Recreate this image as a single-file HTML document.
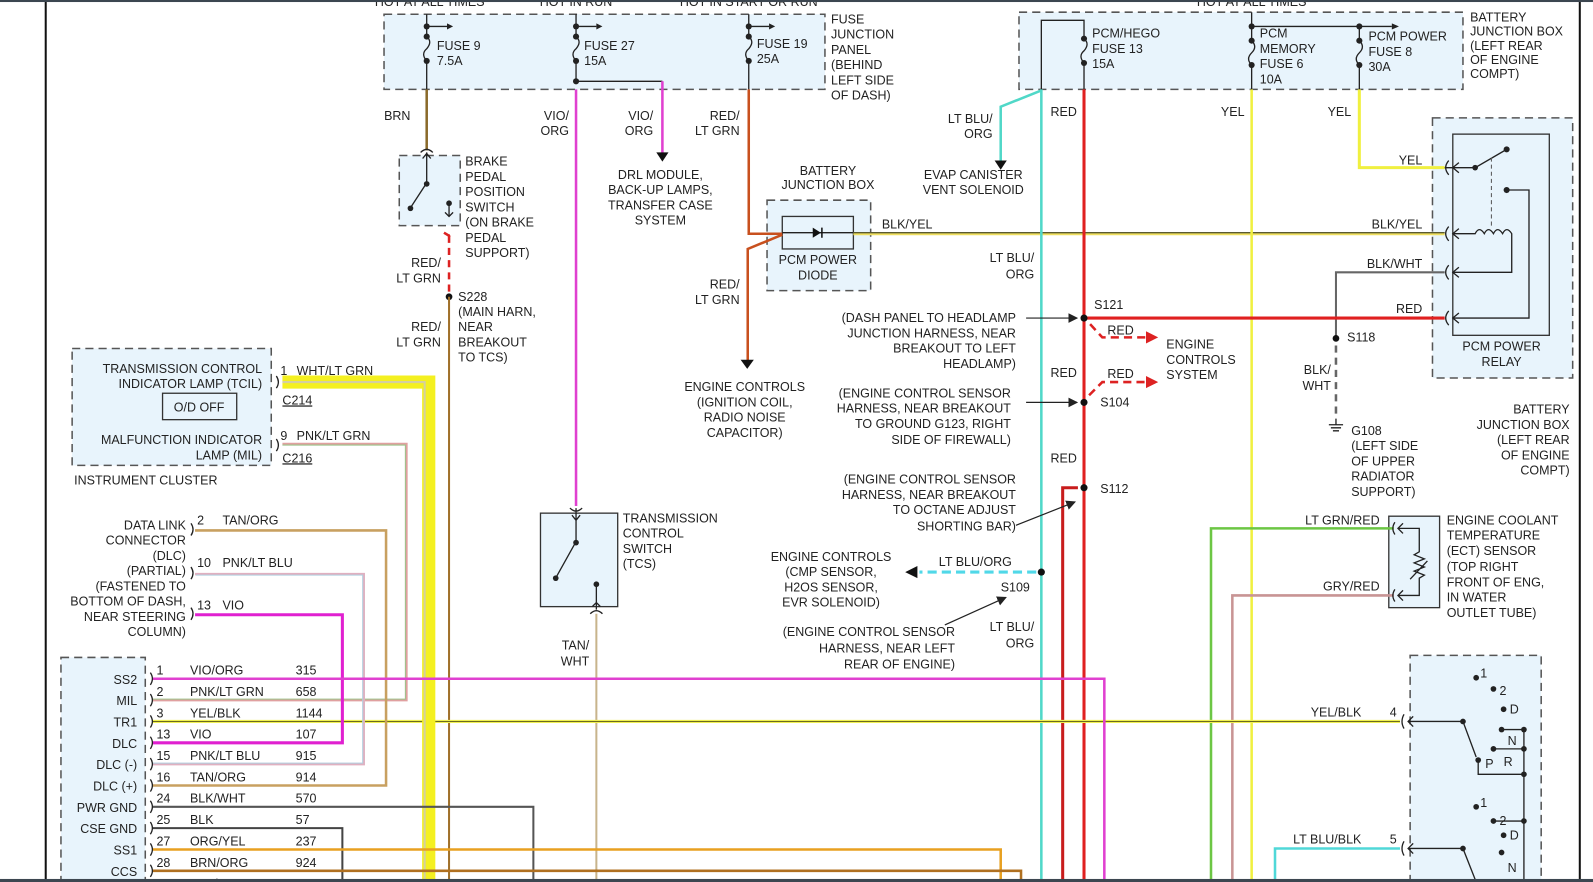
<!DOCTYPE html>
<html><head><meta charset="utf-8"><style>
html,body{margin:0;padding:0;background:#fff;overflow:hidden}
svg{display:block}
text{font-family:"Liberation Sans",Arial,sans-serif;font-size:12.3px;fill:#222}
.r{text-anchor:end}.m{text-anchor:middle}
.bx{fill:#e8f4fc;stroke:#555;stroke-width:1.5;stroke-dasharray:8 5}
.sb{fill:#e8f4fc;stroke:#333;stroke-width:1.3}
.k{stroke:#222;stroke-width:1.3;fill:none}
</style></head><body>
<svg width="1593" height="882" viewBox="0 0 1568 868" preserveAspectRatio="none" xmlns="http://www.w3.org/2000/svg">
<defs><marker id="a" markerWidth="8" markerHeight="8" refX="7" refY="4" orient="auto"><path d="M0,0 L8,4 L0,8z" fill="#222"/></marker>
<marker id="ar" markerWidth="8" markerHeight="8" refX="7" refY="4" orient="auto"><path d="M0,0 L8,4 L0,8z" fill="#d22"/></marker></defs>
<rect x="0" y="0" width="1568" height="868" fill="#fff"/>
<line x1="45" y1="0" x2="45" y2="868" stroke="#111" stroke-width="2"/>
<line x1="1555" y1="0" x2="1555" y2="868" stroke="#111" stroke-width="2"/>

<!-- boxes -->
<rect class="bx" x="378" y="14" width="434" height="74"/>
<rect class="bx" x="1003" y="12" width="437" height="76"/>
<rect class="bx" x="393" y="153" width="60" height="69"/>
<rect class="bx" x="755" y="197" width="102" height="89"/>
<rect class="bx" x="1410" y="116" width="138" height="256"/>
<rect class="bx" x="71" y="343" width="196" height="115"/>
<rect class="bx" x="60" y="647" width="83" height="230"/>
<rect class="bx" x="1388" y="645" width="129" height="230"/>
<rect class="sb" x="532" y="505" width="76" height="92"/>
<rect class="sb" x="1367" y="508" width="50" height="90"/>
<rect class="sb" x="1430" y="132" width="95" height="198" fill="#eaf5fd"/>
<rect class="sb" x="770" y="213" width="70" height="32"/>
<rect x="160" y="387" width="73" height="26" fill="#e8f4fc" stroke="#333" stroke-width="1.3"/>
<text x="196" y="405" class="m">O/D OFF</text>

<!-- top labels -->
<text x="423" y="6" class="m">HOT AT ALL TIMES</text>
<text x="567" y="6" class="m">HOT IN RUN</text>
<text x="737" y="6" class="m">HOT IN START OR RUN</text>
<text x="1232" y="6" class="m">HOT AT ALL TIMES</text>

<!-- fuses in panel -->
<g class="k">
<path d="M420 14V36 M420 26H440 M420 60V88 M420 36q6 5 0 12q-6 5 0 12"/>
<path d="M567 14V36 M567 26H587 M567 60V80H652 M567 36q6 5 0 12q-6 5 0 12"/>
<path d="M737 14V36 M737 26H757 M737 60V88 M737 36q6 5 0 12q-6 5 0 12"/>
</g>
<g fill="#222"><circle cx="420" cy="26" r="3"/><circle cx="420" cy="36" r="3"/><circle cx="420" cy="60" r="3"/>
<circle cx="567" cy="26" r="3"/><circle cx="567" cy="36" r="3"/><circle cx="567" cy="60" r="3"/><circle cx="567" cy="80" r="3"/>
<circle cx="737" cy="26" r="3"/><circle cx="737" cy="36" r="3"/><circle cx="737" cy="60" r="3"/></g>
<path d="M440 23l6 3-6 3z M587 23l6 3-6 3z M757 23l6 3-6 3z" fill="#222"/>
<text x="430" y="49">FUSE 9</text><text x="430" y="64">7.5A</text>
<text x="575" y="49">FUSE 27</text><text x="575" y="64">15A</text>
<text x="745" y="47">FUSE 19</text><text x="745" y="62">25A</text>
<text x="818" y="23">FUSE</text><text x="818" y="38">JUNCTION</text><text x="818" y="53">PANEL</text><text x="818" y="68">(BEHIND</text><text x="818" y="83">LEFT SIDE</text><text x="818" y="98">OF DASH)</text>

<!-- right fuse box -->
<g class="k"><path d="M1025 88V20H1067V38 M1067 62V88 M1067 38q6 5 0 12q-6 5 0 12"/>
<path d="M1232 12V40 M1232 26H1370 M1232 64V88 M1232 40q6 6 0 12q-6 6 0 12"/>
<path d="M1338 26V40 M1338 64V88 M1338 40q6 6 0 12q-6 6 0 12"/></g>
<path d="M1370 23l7 3-7 3z" fill="#222"/>
<g fill="#222"><circle cx="1067" cy="38" r="3"/><circle cx="1067" cy="62" r="3"/><circle cx="1232" cy="26" r="3"/><circle cx="1232" cy="40" r="3"/><circle cx="1232" cy="64" r="3"/><circle cx="1338" cy="26" r="3"/><circle cx="1338" cy="40" r="3"/><circle cx="1338" cy="64" r="3"/></g>
<text x="1075" y="37">PCM/HEGO</text><text x="1075" y="52">FUSE 13</text><text x="1075" y="67">15A</text>
<text x="1240" y="37">PCM</text><text x="1240" y="52">MEMORY</text><text x="1240" y="67">FUSE 6</text><text x="1240" y="82">10A</text>
<text x="1347" y="40">PCM POWER</text><text x="1347" y="55">FUSE 8</text><text x="1347" y="70">30A</text>
<text x="1447" y="21">BATTERY</text><text x="1447" y="35">JUNCTION BOX</text><text x="1447" y="49">(LEFT REAR</text><text x="1447" y="63">OF ENGINE</text><text x="1447" y="77">COMPT)</text>

<!-- wires top-left -->
<line x1="420" y1="88" x2="420" y2="148" stroke="#8a6a2a" stroke-width="2.5"/>
<text x="404" y="118" class="r">BRN</text>
<path class="k" d="M414 150q6-6 12 0 M420 150V160 M416 156l4-5 4 5 M420 160V180 M420 180L405 203 M442 200V213 M438 209l4 4 4-4"/>
<g fill="#222"><circle cx="420" cy="181" r="2.8"/><circle cx="404" cy="205" r="2.8"/><circle cx="442" cy="200" r="2.8"/></g>
<text x="458" y="163">BRAKE</text><text x="458" y="178">PEDAL</text><text x="458" y="193">POSITION</text><text x="458" y="208">SWITCH</text><text x="458" y="223">(ON BRAKE</text><text x="458" y="238">PEDAL</text><text x="458" y="253">SUPPORT)</text>
<path d="M437 229l5 3 5-3 M442 232V290" stroke="#d22" stroke-width="2.5" fill="none" stroke-dasharray="7 5"/>
<circle cx="442" cy="292" r="3.3" fill="#111"/>
<text x="434" y="263" class="r">RED/</text><text x="434" y="278" class="r">LT GRN</text>
<text x="451" y="296">S228</text><text x="451" y="311">(MAIN HARN,</text><text x="451" y="326">NEAR</text><text x="451" y="341">BREAKOUT</text><text x="451" y="356">TO TCS)</text>
<line x1="442" y1="292" x2="442" y2="868" stroke="#a0702a" stroke-width="2"/>
<text x="434" y="326" class="r">RED/</text><text x="434" y="341" class="r">LT GRN</text>

<line x1="567" y1="88" x2="567" y2="498" stroke="#e040d0" stroke-width="2.5"/>
<text x="560" y="118" class="r">VIO/</text><text x="560" y="133" class="r">ORG</text>
<line x1="652" y1="80" x2="652" y2="152" stroke="#e040d0" stroke-width="2.5"/>
<path d="M646 150h12l-6 9z" fill="#111"/>
<text x="643" y="118" class="r">VIO/</text><text x="643" y="133" class="r">ORG</text>
<text x="650" y="176" class="m">DRL MODULE,</text><text x="650" y="191" class="m">BACK-UP LAMPS,</text><text x="650" y="206" class="m">TRANSFER CASE</text><text x="650" y="221" class="m">SYSTEM</text>

<path d="M737 88V230H770 M770 231L736 245V355" stroke="#c8501e" stroke-width="2.5" fill="none"/>
<path d="M729 354h13l-6.5 9z" fill="#111"/>
<text x="728" y="118" class="r">RED/</text><text x="728" y="133" class="r">LT GRN</text>
<text x="728" y="284" class="r">RED/</text><text x="728" y="299" class="r">LT GRN</text>
<text x="733" y="385" class="m">ENGINE CONTROLS</text><text x="733" y="400" class="m">(IGNITION COIL,</text><text x="733" y="415" class="m">RADIO NOISE</text><text x="733" y="430" class="m">CAPACITOR)</text>
<text x="815" y="172" class="m">BATTERY</text><text x="815" y="186" class="m">JUNCTION BOX</text>
<path d="M770 229H840" class="k"/><path d="M800 224v10l8-5z" fill="#111"/><line x1="809" y1="224" x2="809" y2="234" stroke="#111" stroke-width="1.5"/>
<text x="805" y="260" class="m">PCM POWER</text><text x="805" y="275" class="m">DIODE</text>

<!-- BLK/YEL -->
<line x1="840" y1="230" x2="1422" y2="230" stroke="#f0e060" stroke-width="3"/>
<line x1="840" y1="229" x2="1422" y2="229" stroke="#5a5a30" stroke-width="1.3"/>
<text x="868" y="225">BLK/YEL</text><text x="1400" y="225" class="r">BLK/YEL</text>

<!-- right verticals -->
<line x1="1025" y1="88" x2="1025" y2="868" stroke="#50d8c8" stroke-width="2.5"/>
<path d="M1025 89L985 105V160" stroke="#50d8c8" stroke-width="2.5" fill="none"/>
<path d="M979 158h12l-6 9z" fill="#111"/>
<text x="977" y="121" class="r">LT BLU/</text><text x="977" y="136" class="r">ORG</text>
<text x="958" y="176" class="m">EVAP CANISTER</text><text x="958" y="191" class="m">VENT SOLENOID</text>
<text x="1018" y="258" class="r">LT BLU/</text><text x="1018" y="274" class="r">ORG</text>
<line x1="1067" y1="88" x2="1067" y2="868" stroke="#e02020" stroke-width="3"/>
<path d="M1061 480H1046V868" stroke="#c81c1c" stroke-width="3" fill="none"/>
<text x="1060" y="114" class="r">RED</text><text x="1060" y="371" class="r">RED</text><text x="1060" y="455" class="r">RED</text>
<line x1="1232" y1="88" x2="1232" y2="868" stroke="#f0f040" stroke-width="2.5"/>
<text x="1225" y="114" class="r">YEL</text>
<path d="M1338 88V165H1422" stroke="#f0f040" stroke-width="3" fill="none"/>
<text x="1330" y="114" class="r">YEL</text><text x="1400" y="162" class="r">YEL</text>

<!-- relay -->
<path class="k" d="M1422 165H1452L1483 147 M1483 187H1505V313H1430 M1430 230H1452 q4-8 9 0q4-8 9 0q4-8 9 0q4-8 9 0 V268H1430"/>
<line x1="1468" y1="155" x2="1468" y2="225" stroke="#555" stroke-dasharray="4 3"/>
<g fill="#222"><circle cx="1452" cy="165" r="2.8"/><circle cx="1483" cy="147" r="3"/><circle cx="1483" cy="187" r="3"/></g>
<g class="k"><path d="M1426 158q-6 7 0 14 M1426 223q-6 7 0 14 M1426 261q-6 7 0 14 M1426 306q-6 7 0 14"/>
<path d="M1436 160l-6 5 6 5 M1436 225l-6 5 6 5 M1436 263l-6 5 6 5 M1436 308l-6 5 6 5"/></g>
<text x="1478" y="345" class="m">PCM POWER</text><text x="1478" y="360" class="m">RELAY</text>
<text x="1545" y="407" class="r">BATTERY</text><text x="1545" y="422" class="r">JUNCTION BOX</text><text x="1545" y="437" class="r">(LEFT REAR</text><text x="1545" y="452" class="r">OF ENGINE</text><text x="1545" y="467" class="r">COMPT)</text>
<path d="M1422 268H1315V333" stroke="#666" stroke-width="2" fill="none"/>
<text x="1400" y="264" class="r">BLK/WHT</text>
<line x1="1315" y1="340" x2="1315" y2="412" stroke="#666" stroke-width="2.5" stroke-dasharray="7 5"/>
<circle cx="1315" cy="333" r="3.3" fill="#111"/>
<text x="1326" y="336">S118</text>
<text x="1310" y="368" class="r">BLK/</text><text x="1310" y="384" class="r">WHT</text>
<path class="k" d="M1315 412V418 M1308 418h14 M1310 421h10 M1312 424h6"/>
<text x="1330" y="428">G108</text><text x="1330" y="443">(LEFT SIDE</text><text x="1330" y="458">OF UPPER</text><text x="1330" y="473">RADIATOR</text><text x="1330" y="488">SUPPORT)</text>

<!-- S121 etc -->
<line x1="1067" y1="313" x2="1422" y2="313" stroke="#e02020" stroke-width="3"/>
<text x="1400" y="308" class="r">RED</text>
<circle cx="1067" cy="313" r="3.5" fill="#111"/>
<text x="1077" y="304">S121</text>
<line x1="1010" y1="313" x2="1060" y2="313" stroke="#222" stroke-width="1.2" marker-end="url(#a)"/>
<text x="1000" y="317" class="r">(DASH PANEL TO HEADLAMP</text><text x="1000" y="332" class="r">JUNCTION HARNESS, NEAR</text><text x="1000" y="347" class="r">BREAKOUT TO LEFT</text><text x="1000" y="362" class="r">HEADLAMP)</text>
<path d="M1073 319L1085 332H1128" stroke="#d22" stroke-width="2.5" fill="none" stroke-dasharray="8 5"/>
<path d="M1128 326l12 6-12 6z" fill="#d22"/>
<text x="1090" y="329">RED</text>
<text x="1148" y="343">ENGINE</text><text x="1148" y="358">CONTROLS</text><text x="1148" y="373">SYSTEM</text>
<circle cx="1067" cy="396" r="3.5" fill="#111"/>
<text x="1083" y="400">S104</text>
<path d="M1072 389L1085 376H1128" stroke="#d22" stroke-width="2.5" fill="none" stroke-dasharray="8 5"/>
<path d="M1128 370l12 6-12 6z" fill="#d22"/>
<text x="1090" y="372">RED</text>
<line x1="1010" y1="396" x2="1060" y2="396" stroke="#222" stroke-width="1.2" marker-end="url(#a)"/>
<text x="995" y="391" class="r">(ENGINE CONTROL SENSOR</text><text x="995" y="406" class="r">HARNESS, NEAR BREAKOUT</text><text x="995" y="421" class="r">TO GROUND G123, RIGHT</text><text x="995" y="437" class="r">SIDE OF FIREWALL)</text>
<circle cx="1067" cy="480" r="3.5" fill="#111"/>
<text x="1083" y="485">S112</text>
<line x1="1000" y1="517" x2="1058" y2="494" stroke="#222" stroke-width="1.2" marker-end="url(#a)"/>
<text x="1000" y="476" class="r">(ENGINE CONTROL SENSOR</text><text x="1000" y="491" class="r">HARNESS, NEAR BREAKOUT</text><text x="1000" y="506" class="r">TO OCTANE ADJUST</text><text x="1000" y="522" class="r">SHORTING BAR)</text>
<line x1="1020" y1="563" x2="905" y2="563" stroke="#50d8e8" stroke-width="3" stroke-dasharray="9 5"/>
<path d="M903 557l-12 6 12 6z" fill="#111"/>
<circle cx="1025" cy="563" r="3.5" fill="#111"/>
<text x="996" y="557" class="r">LT BLU/ORG</text>
<text x="985" y="582">S109</text>
<line x1="930" y1="615" x2="990" y2="588" stroke="#222" stroke-width="1.2" marker-end="url(#a)"/>
<text x="818" y="552" class="m">ENGINE CONTROLS</text><text x="818" y="567" class="m">(CMP SENSOR,</text><text x="818" y="582" class="m">H2OS SENSOR,</text><text x="818" y="597" class="m">EVR SOLENOID)</text>
<text x="940" y="626" class="r">(ENGINE CONTROL SENSOR</text><text x="940" y="642" class="r">HARNESS, NEAR LEFT</text><text x="940" y="658" class="r">REAR OF ENGINE)</text>
<text x="1018" y="621" class="r">LT BLU/</text><text x="1018" y="637" class="r">ORG</text>

<!-- TCS -->
<path class="k" d="M561 500q6 6 12 0 M567 500V513 M563 507l4 5 4-5 M567 513V533 L548 567 M587 575V600 M583 597l4-4 4 4 M581 604q6-6 12 0"/>
<g fill="#222"><circle cx="567" cy="534" r="2.8"/><circle cx="547" cy="569" r="2.8"/><circle cx="587" cy="575" r="2.8"/></g>
<text x="613" y="514">TRANSMISSION</text><text x="613" y="529">CONTROL</text><text x="613" y="544">SWITCH</text><text x="613" y="559">(TCS)</text>
<line x1="587" y1="604" x2="587" y2="868" stroke="#c8b48c" stroke-width="2"/>
<text x="580" y="639" class="r">TAN/</text><text x="580" y="655" class="r">WHT</text>

<!-- ECT -->
<path d="M1372 520H1192V868" stroke="#6cc644" stroke-width="2.5" fill="none"/>
<path d="M1372 586H1213V868" stroke="#c89494" stroke-width="2.5" fill="none"/>
<text x="1358" y="516" class="r">LT GRN/RED</text><text x="1358" y="581" class="r">GRY/RED</text>
<path class="k" d="M1373 514q-4 6 0 12 M1373 580q-4 6 0 12 M1381 515l-5 5 5 5 M1381 581l-5 5 5 5 M1376 520H1397V543l-5 3 10 4-10 4 10 4-10 4 10 4-5 3V586H1376 M1388 570l17-18"/>
<text x="1424" y="516">ENGINE COOLANT</text><text x="1424" y="531">TEMPERATURE</text><text x="1424" y="546">(ECT) SENSOR</text><text x="1424" y="562">(TOP RIGHT</text><text x="1424" y="577">FRONT OF ENG,</text><text x="1424" y="592">IN WATER</text><text x="1424" y="607">OUTLET TUBE)</text>

<!-- trans range -->
<line x1="150" y1="710" x2="1378" y2="710" stroke="#f0f050" stroke-width="3"/>
<line x1="150" y1="710" x2="1378" y2="710" stroke="#6a6a20" stroke-width="1"/>
<text x="1340" y="705" class="r">YEL/BLK</text><text x="1368" y="705">4</text>
<path d="M1255 868V835H1378" stroke="#50d8d8" stroke-width="2.5" fill="none"/>
<text x="1340" y="830" class="r">LT BLU/BLK</text><text x="1368" y="830">5</text>
<g class="k"><path d="M1382 703q-4 7 0 14 M1382 828q-4 7 0 14 M1391 705l-5 5 5 5 M1391 830l-5 5 5 5"/>
<path d="M1386 710H1440L1453 745 M1386 835H1440L1453 868 M1478 718H1500 M1470 737H1500 M1500 718V868 M1455 748V762H1500 M1470 808H1500"/></g>
<g fill="#222"><circle cx="1453" cy="667" r="2.8"/><circle cx="1470" cy="678" r="2.8"/><circle cx="1480" cy="698" r="2.8"/><circle cx="1478" cy="718" r="2.8"/><circle cx="1500" cy="718" r="2.8"/><circle cx="1470" cy="737" r="2.8"/><circle cx="1500" cy="737" r="2.8"/><circle cx="1455" cy="748" r="2.8"/><circle cx="1500" cy="762" r="2.8"/><circle cx="1440" cy="710" r="2.8"/>
<circle cx="1453" cy="794" r="2.8"/><circle cx="1470" cy="808" r="2.8"/><circle cx="1500" cy="808" r="2.8"/><circle cx="1480" cy="822" r="2.8"/><circle cx="1478" cy="839" r="2.8"/><circle cx="1440" cy="835" r="2.8"/></g>
<text x="1457" y="667">1</text><text x="1476" y="684">2</text><text x="1486" y="702">D</text><text x="1484" y="733">N</text><text x="1462" y="756">P</text><text x="1480" y="754">R</text>
<text x="1457" y="794">1</text><text x="1476" y="812">2</text><text x="1486" y="826">D</text><text x="1484" y="858">N</text>

<!-- instrument cluster -->
<text x="258" y="367" class="r">TRANSMISSION CONTROL</text><text x="258" y="382" class="r">INDICATOR LAMP (TCIL)</text>
<text x="258" y="437" class="r">MALFUNCTION INDICATOR</text><text x="258" y="452" class="r">LAMP (MIL)</text>
<text x="73" y="477">INSTRUMENT CLUSTER</text>
<path d="M278 376H422V868" stroke="#f4f020" stroke-width="13" fill="none"/>
<path d="M278 376H418V868" stroke="#d4d0a0" stroke-width="2" fill="none"/>
<text x="276" y="369">1</text><text x="292" y="369">WHT/LT GRN</text>
<text x="278" y="398" text-decoration="underline">C214</text>
<text x="276" y="433">9</text><text x="292" y="433">PNK/LT GRN</text>
<text x="278" y="455" text-decoration="underline">C216</text>
<path d="M278 437H400V689H150" stroke="#e0a0a0" stroke-width="2.5" fill="none"/>
<path d="M278 438H399V688H150" stroke="#9cc48a" stroke-width="1" fill="none"/>
<path class="k" d="M272 370q4 6 0 12 M272 432q4 6 0 12"/>

<!-- DLC -->
<text x="183" y="521" class="r">DATA LINK</text><text x="183" y="536" class="r">CONNECTOR</text><text x="183" y="551" class="r">(DLC)</text><text x="183" y="566" class="r">(PARTIAL)</text><text x="183" y="581" class="r">(FASTENED TO</text><text x="183" y="596" class="r">BOTTOM OF DASH,</text><text x="183" y="611" class="r">NEAR STEERING</text><text x="183" y="626" class="r">COLUMN)</text>
<path d="M192 522H380V773H150" stroke="#c8a060" stroke-width="2.5" fill="none"/>
<path d="M192 565H358V752H150" stroke="#e0b0c0" stroke-width="2.5" fill="none"/>
<path d="M193 566H357V751H150" stroke="#b0d0e0" stroke-width="1" fill="none"/>
<path d="M192 605H337V731H150" stroke="#e020d0" stroke-width="3" fill="none"/>
<path class="k" d="M188 515q4 6 0 12 M188 558q4 6 0 12 M188 598q4 6 0 12" stroke="#777"/>
<text x="194" y="516">2</text><text x="219" y="516">TAN/ORG</text>
<text x="194" y="558">10</text><text x="219" y="558">PNK/LT BLU</text>
<text x="194" y="600">13</text><text x="219" y="600">VIO</text>

<!-- PCM pins -->
<path d="M150 668H1087V868" stroke="#e040d0" stroke-width="2.5" fill="none"/>
<path d="M150 794H525V868" stroke="#555" stroke-width="2" fill="none"/>
<path d="M150 815H337V868" stroke="#444" stroke-width="2" fill="none"/>
<path d="M150 836H985V868" stroke="#e8a020" stroke-width="2.5" fill="none"/>
<path d="M150 857H1005V868" stroke="#b07020" stroke-width="2.5" fill="none"/>
<g class="r">
<text x="135" y="673">SS2</text><text x="135" y="694">MIL</text><text x="135" y="715">TR1</text><text x="135" y="736">DLC</text><text x="135" y="757">DLC (-)</text><text x="135" y="778">DLC (+)</text><text x="135" y="799">PWR GND</text><text x="135" y="820">CSE GND</text><text x="135" y="841">SS1</text><text x="135" y="862">CCS</text></g>
<g class="k"><path d="M148 662q4 6 0 12 M148 683q4 6 0 12 M148 704q4 6 0 12 M148 725q4 6 0 12 M148 746q4 6 0 12 M148 767q4 6 0 12 M148 788q4 6 0 12 M148 809q4 6 0 12 M148 830q4 6 0 12 M148 851q4 6 0 12"/></g>
<g><text x="154" y="664">1</text><text x="187" y="664">VIO/ORG</text><text x="291" y="664">315</text>
<text x="154" y="685">2</text><text x="187" y="685">PNK/LT GRN</text><text x="291" y="685">658</text>
<text x="154" y="706">3</text><text x="187" y="706">YEL/BLK</text><text x="291" y="706">1144</text>
<text x="154" y="727">13</text><text x="187" y="727">VIO</text><text x="291" y="727">107</text>
<text x="154" y="748">15</text><text x="187" y="748">PNK/LT BLU</text><text x="291" y="748">915</text>
<text x="154" y="769">16</text><text x="187" y="769">TAN/ORG</text><text x="291" y="769">914</text>
<text x="154" y="790">24</text><text x="187" y="790">BLK/WHT</text><text x="291" y="790">570</text>
<text x="154" y="811">25</text><text x="187" y="811">BLK</text><text x="291" y="811">57</text>
<text x="154" y="832">27</text><text x="187" y="832">ORG/YEL</text><text x="291" y="832">237</text>
<text x="154" y="853">28</text><text x="187" y="853">BRN/ORG</text><text x="291" y="853">924</text>
<text x="154" y="874">29</text><text x="187" y="874">TAN/WHT</text><text x="291" y="874">224</text></g>

<rect x="0" y="0" width="1568" height="2" fill="#3c4650"/>
<rect x="0" y="865" width="1568" height="3" fill="#3c4650"/>
</svg>
</body></html>
